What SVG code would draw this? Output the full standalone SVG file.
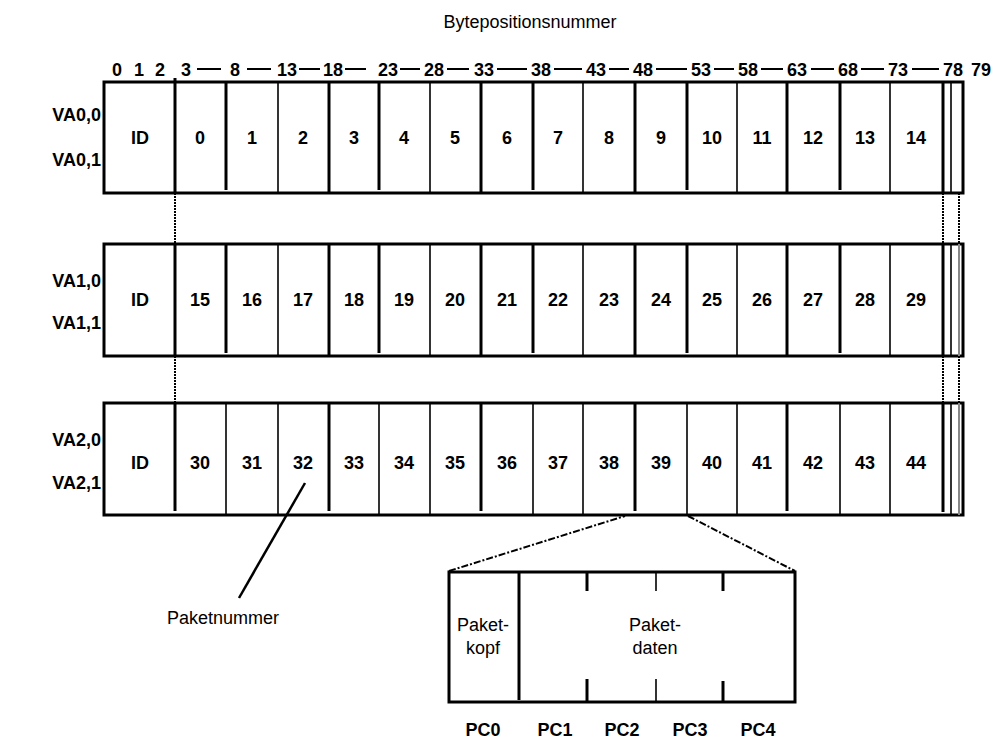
<svg xmlns="http://www.w3.org/2000/svg" width="996" height="740" viewBox="0 0 996 740">
<style>
text{font-family:"Liberation Sans",Arial,sans-serif;fill:#000}
.b{font-weight:bold;font-size:18px}
.r{font-size:18px}
.c{text-anchor:middle}
.e{text-anchor:end}
.box{fill:#fff;stroke:#000;stroke-width:3}
.d1{stroke:#000;stroke-width:1.6}
.d2{stroke:#000;stroke-width:3}
.dot{stroke:#000;stroke-width:2;stroke-dasharray:2 1;fill:none}
.dd{stroke:#000;stroke-width:2;stroke-dasharray:7 2 2 2;fill:none}
.ln{stroke:#000;stroke-width:2.5;fill:none}
.dash{stroke:#000;stroke-width:2}
</style>
<rect width="996" height="740" fill="#fff"/>
<g id="title"><text class="r c" x="530" y="28">Bytepositionsnummer</text></g>
<g id="header">
<text class="b c" x="117" y="76">0</text>
<text class="b c" x="139" y="76">1</text>
<text class="b c" x="160" y="76">2</text>
<text class="b c" x="186" y="76">3</text>
<text class="b c" x="235" y="76">8</text>
<text class="b c" x="287" y="76">13</text>
<text class="b c" x="333" y="76">18</text>
<text class="b c" x="388" y="76">23</text>
<text class="b c" x="434" y="76">28</text>
<text class="b c" x="484" y="76">33</text>
<text class="b c" x="541" y="76">38</text>
<text class="b c" x="596" y="76">43</text>
<text class="b c" x="643" y="76">48</text>
<text class="b c" x="701" y="76">53</text>
<text class="b c" x="748" y="76">58</text>
<text class="b c" x="797" y="76">63</text>
<text class="b c" x="848" y="76">68</text>
<text class="b c" x="898" y="76">73</text>
<text class="b c" x="953" y="76">78</text>
<text class="b c" x="981" y="76">79</text>
<path class="dash" d="M197 69H221M247 69H271M299 69H320M345 69H366M400 69H420M447 69H469M497 69H527M554 69H582M609 69H629M656 69H687M714 69H734M761 69H783M811 69H834M861 69H884M912 69H939"/>
</g>

<g id="row0">
<text class="b e" x="101" y="121">VA0,0</text>
<text class="b e" x="101" y="166">VA0,1</text>
<rect class="box" x="104" y="82" width="859" height="111"/>
<line class="d2" x1="175" y1="78" x2="175" y2="193"/>
<line class="d2" x1="226" y1="82" x2="226" y2="190"/>
<line class="d1" x1="278" y1="82" x2="278" y2="193"/>
<line class="d2" x1="329" y1="82" x2="329" y2="193"/>
<line class="d2" x1="379" y1="82" x2="379" y2="190"/>
<line class="d1" x1="430" y1="82" x2="430" y2="193"/>
<line class="d2" x1="481" y1="82" x2="481" y2="193"/>
<line class="d2" x1="533" y1="82" x2="533" y2="190"/>
<line class="d1" x1="583" y1="82" x2="583" y2="193"/>
<line class="d2" x1="635" y1="82" x2="635" y2="193"/>
<line class="d2" x1="687" y1="82" x2="687" y2="190"/>
<line class="d1" x1="737" y1="82" x2="737" y2="193"/>
<line class="d2" x1="787" y1="82" x2="787" y2="193"/>
<line class="d2" x1="840" y1="82" x2="840" y2="190"/>
<line class="d1" x1="890" y1="82" x2="890" y2="193"/>
<line class="d2" x1="943" y1="82" x2="943" y2="193"/>
<line class="d1" x1="951" y1="82" x2="951" y2="193"/>
<text class="b c" x="140" y="144">ID</text>
<text class="b c" x="200" y="144">0</text>
<text class="b c" x="252" y="144">1</text>
<text class="b c" x="303" y="144">2</text>
<text class="b c" x="354" y="144">3</text>
<text class="b c" x="404" y="144">4</text>
<text class="b c" x="455" y="144">5</text>
<text class="b c" x="507" y="144">6</text>
<text class="b c" x="558" y="144">7</text>
<text class="b c" x="609" y="144">8</text>
<text class="b c" x="661" y="144">9</text>
<text class="b c" x="712" y="144">10</text>
<text class="b c" x="762" y="144">11</text>
<text class="b c" x="813" y="144">12</text>
<text class="b c" x="865" y="144">13</text>
<text class="b c" x="916" y="144">14</text>
</g>

<g id="row1">
<text class="b e" x="101" y="287">VA1,0</text>
<text class="b e" x="101" y="329">VA1,1</text>
<rect class="box" x="104" y="244" width="859" height="112"/>
<line class="d2" x1="175" y1="244" x2="175" y2="356"/>
<line class="d2" x1="226" y1="244" x2="226" y2="353"/>
<line class="d1" x1="278" y1="244" x2="278" y2="356"/>
<line class="d2" x1="329" y1="244" x2="329" y2="356"/>
<line class="d2" x1="379" y1="244" x2="379" y2="353"/>
<line class="d1" x1="430" y1="244" x2="430" y2="356"/>
<line class="d2" x1="481" y1="244" x2="481" y2="356"/>
<line class="d2" x1="533" y1="244" x2="533" y2="353"/>
<line class="d1" x1="583" y1="244" x2="583" y2="356"/>
<line class="d2" x1="635" y1="244" x2="635" y2="356"/>
<line class="d2" x1="687" y1="244" x2="687" y2="353"/>
<line class="d1" x1="737" y1="244" x2="737" y2="356"/>
<line class="d2" x1="787" y1="244" x2="787" y2="356"/>
<line class="d2" x1="840" y1="244" x2="840" y2="353"/>
<line class="d1" x1="890" y1="244" x2="890" y2="356"/>
<line class="d2" x1="943" y1="244" x2="943" y2="356"/>
<line class="d1" x1="951" y1="244" x2="951" y2="356"/>
<line stroke="#888" stroke-width="2" x1="959" y1="244" x2="959" y2="356"/>
<text class="b c" x="140" y="306">ID</text>
<text class="b c" x="200" y="306">15</text>
<text class="b c" x="252" y="306">16</text>
<text class="b c" x="303" y="306">17</text>
<text class="b c" x="354" y="306">18</text>
<text class="b c" x="404" y="306">19</text>
<text class="b c" x="455" y="306">20</text>
<text class="b c" x="507" y="306">21</text>
<text class="b c" x="558" y="306">22</text>
<text class="b c" x="609" y="306">23</text>
<text class="b c" x="661" y="306">24</text>
<text class="b c" x="712" y="306">25</text>
<text class="b c" x="762" y="306">26</text>
<text class="b c" x="813" y="306">27</text>
<text class="b c" x="865" y="306">28</text>
<text class="b c" x="916" y="306">29</text>
</g>

<g id="row2">
<text class="b e" x="101" y="446">VA2,0</text>
<text class="b e" x="101" y="489">VA2,1</text>
<rect class="box" x="104" y="403" width="859" height="112"/>
<line class="d2" x1="175" y1="403" x2="175" y2="511"/>
<line class="d1" x1="226" y1="403" x2="226" y2="515"/>
<line class="d1" x1="278" y1="403" x2="278" y2="515"/>
<line class="d2" x1="329" y1="403" x2="329" y2="511"/>
<line class="d1" x1="379" y1="403" x2="379" y2="515"/>
<line class="d1" x1="430" y1="403" x2="430" y2="515"/>
<line class="d2" x1="481" y1="403" x2="481" y2="511"/>
<line class="d1" x1="533" y1="403" x2="533" y2="515"/>
<line class="d1" x1="583" y1="403" x2="583" y2="515"/>
<line class="d2" x1="635" y1="403" x2="635" y2="511"/>
<line class="d1" x1="687" y1="403" x2="687" y2="515"/>
<line class="d1" x1="737" y1="403" x2="737" y2="515"/>
<line class="d2" x1="787" y1="403" x2="787" y2="511"/>
<line class="d1" x1="840" y1="403" x2="840" y2="515"/>
<line class="d1" x1="890" y1="403" x2="890" y2="515"/>
<line class="d2" x1="943" y1="403" x2="943" y2="512"/>
<line class="d1" x1="951" y1="403" x2="951" y2="515"/>
<line stroke="#888" stroke-width="2" x1="959" y1="403" x2="959" y2="515"/>
<text class="b c" x="140" y="469">ID</text>
<text class="b c" x="200" y="469">30</text>
<text class="b c" x="252" y="469">31</text>
<text class="b c" x="303" y="469">32</text>
<text class="b c" x="354" y="469">33</text>
<text class="b c" x="404" y="469">34</text>
<text class="b c" x="455" y="469">35</text>
<text class="b c" x="507" y="469">36</text>
<text class="b c" x="558" y="469">37</text>
<text class="b c" x="609" y="469">38</text>
<text class="b c" x="661" y="469">39</text>
<text class="b c" x="712" y="469">40</text>
<text class="b c" x="762" y="469">41</text>
<text class="b c" x="813" y="469">42</text>
<text class="b c" x="865" y="469">43</text>
<text class="b c" x="916" y="469">44</text>
</g>

<g id="packet">
<rect class="box" x="449" y="572" width="346" height="130"/>
<line class="d2" x1="519" y1="572" x2="519" y2="700"/>
<line class="d2" x1="587" y1="572" x2="587" y2="591"/>
<line class="d1" x1="656" y1="572" x2="656" y2="591"/>
<line class="d2" x1="723" y1="572" x2="723" y2="591"/>
<line class="d2" x1="587" y1="679" x2="587" y2="702"/>
<line class="d1" x1="656" y1="679" x2="656" y2="702"/>
<line class="d2" x1="723" y1="681" x2="723" y2="702"/>
<text class="r c" x="483" y="631">Paket-</text>
<text class="r c" x="483" y="654">kopf</text>
<text class="r c" x="655" y="631">Paket-</text>
<text class="r c" x="655" y="654">daten</text>
<text class="b c" x="483" y="736">PC0</text>
<text class="b c" x="555" y="736">PC1</text>
<text class="b c" x="622" y="736">PC2</text>
<text class="b c" x="690" y="736">PC3</text>
<text class="b c" x="758" y="736">PC4</text>
</g>

<g id="paketnummer">
<text class="r" x="167" y="624">Paketnummer</text>
</g>

<g id="connectors">
<line class="dot" x1="175" y1="193" x2="175" y2="244"/>
<line class="dot" x1="175" y1="356" x2="175" y2="403"/>
<line class="dot" x1="943" y1="193" x2="943" y2="244"/>
<line class="dot" x1="959" y1="193" x2="959" y2="244"/>
<line class="dot" x1="943" y1="356" x2="943" y2="403"/>
<line class="dot" x1="959" y1="356" x2="959" y2="403"/>
<line class="dd" x1="449" y1="571" x2="625" y2="516"/>
<line class="dd" x1="688" y1="516" x2="795" y2="571"/>
<line class="ln" x1="305" y1="483" x2="239" y2="598"/>
</g>
</svg>
